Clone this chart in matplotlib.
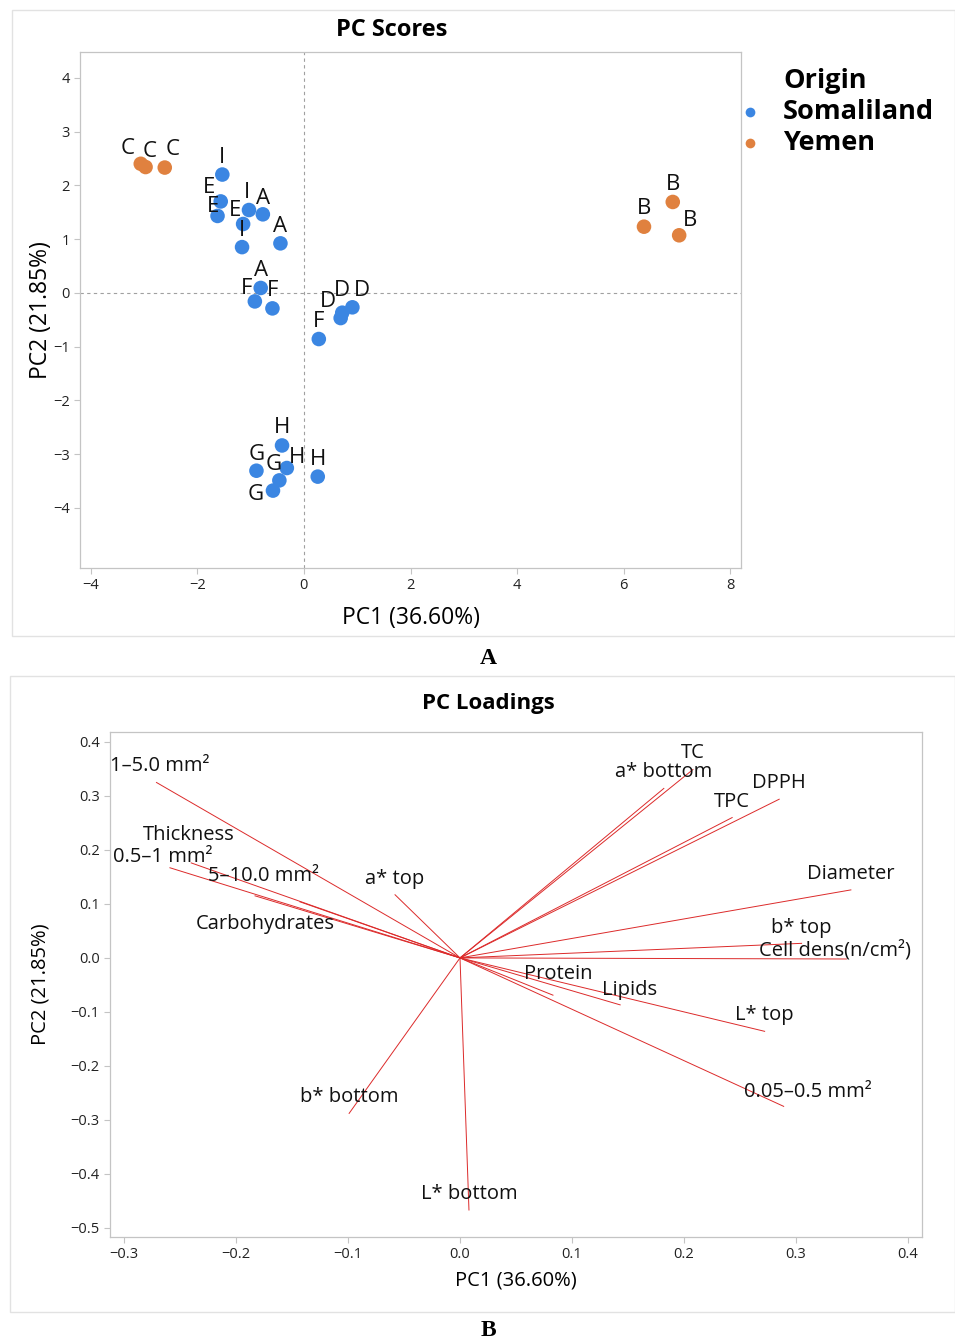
import matplotlib
matplotlib.use("Agg")
import matplotlib.pyplot as plt
from matplotlib.patches import Rectangle
from matplotlib.ticker import FuncFormatter

plt.rcParams['font.family'] = ['Open Sans', 'DejaVu Sans']

# --- PC scores (panel A) ---
score_labels = ['C', 'C', 'C', 'I', 'E', 'E', 'E', 'I', 'A', 'A', 'I', 'A', 'F', 'F', 'F',
                'D', 'D', 'D', 'H', 'G', 'H', 'G', 'G', 'H', 'B', 'B', 'B']
score_origin = ['Yemen'] * 3 + ['Somaliland'] * 21 + ['Yemen'] * 3
pc1_scores = [-3.06, -2.97, -2.61, -1.53, -1.56, -1.62, -1.14, -1.03, -0.77, -0.44, -1.16, -0.81,
              -0.92, -0.59, 0.28, 0.69, 0.72, 0.91, -0.41, -0.89, -0.32, -0.46, -0.58, 0.26,
              6.92, 6.38, 7.04]
pc2_scores = [2.40, 2.34, 2.33, 2.20, 1.70, 1.43, 1.28, 1.54, 1.46, 0.92, 0.85, 0.09,
              -0.16, -0.29, -0.86, -0.47, -0.37, -0.27, -2.84, -3.31, -3.26, -3.49, -3.68, -3.42,
              1.69, 1.23, 1.07]
# label offsets in pixels (dx right, dy up)
score_label_offsets = [(-13, 15), (4, 16), (8, 18), (0, 17), (-12, 14), (-5, 9), (-8, 14), (-2, 18),
                       (0, 16), (0, 17), (0, 17), (0, 17), (-8, 13), (0, 18), (0, 18), (-13, 17),
                       (0, 22), (10, 17), (0, 18), (0, 16), (10, 11), (-6, 16), (-17, -4), (0, 17),
                       (0, 17), (0, 18), (11, 15)]
origin_colors = {'Somaliland': '#3b86e2', 'Yemen': '#e0813f'}

# --- PC loadings (panel B) ---
var_names = ['1–5.0 mm²', 'Thickness', '0.5–1 mm²', '5–10.0 mm²', 'Carbohydrates', 'a* top',
             'TC', 'a* bottom', 'TPC', 'DPPH', 'Diameter', 'b* top', 'Cell dens(n/cm²)',
             'Protein', 'Lipids', 'L* top', '0.05–0.5 mm²', 'b* bottom', 'L* bottom']
pc1_load = [-0.271, -0.240, -0.259, -0.183, -0.143, -0.058,
            0.208, 0.182, 0.243, 0.285, 0.349, 0.305, 0.345,
            0.083, 0.143, 0.272, 0.289, -0.099, 0.008]
pc2_load = [0.325, 0.176, 0.167, 0.115, 0.104, 0.117,
            0.349, 0.314, 0.260, 0.294, 0.126, 0.027, -0.002,
            -0.069, -0.087, -0.136, -0.275, -0.288, -0.467]
load_label_offsets = [(3, 16), (-2, 28), (-7, 11), (8, 20), (-35, -22), (0, 16),
                      (0, 17), (0, 16), (0, 16), (0, 16), (0, 16), (0, 15), (-11, 9),
                      (5, 21), (9, 15), (0, 16), (24, 14), (0, 16), (0, 16)]

W, H = 955, 1342
fig = plt.figure(figsize=(W / 100, H / 100), dpi=100)

def fx(px):
    return px / W

def fy(py):
    return 1 - py / H

# panel frames
for (x0, y0, x1, y1) in [(12, 10, 955, 636), (10, 676, 955, 1312)]:
    fig.add_artist(Rectangle((fx(x0), fy(y1)), fx(x1) - fx(x0), fy(y0) - fy(y1),
                             transform=fig.transFigure, fill=False, edgecolor='#e2e2e2', lw=1))

spine_col = '#c4c4c4'

def style_axes(ax):
    for s in ax.spines.values():
        s.set_color(spine_col)
        s.set_linewidth(0.9)
    ax.tick_params(direction='out', length=4, width=0.8, color=spine_col,
                   labelsize=10.5, labelcolor='#222222')

def one_dec(v, pos):
    return ('%.1f' % v).replace('-', '\u2212')

# ---------- panel A ----------
ax1 = fig.add_axes([fx(80), fy(568), fx(741) - fx(80), fy(52) - fy(568)])
style_axes(ax1)
ax1.axvline(0, color='#a0a0a0', lw=0.8, ls=(0, (3, 3)), zorder=0)
ax1.axhline(0, color='#a0a0a0', lw=0.8, ls=(0, (3, 3)), zorder=0)
cols = [origin_colors[o] for o in score_origin]
ax1.scatter(pc1_scores, pc2_scores, c=cols, s=110, edgecolors='none', zorder=3)
for x, y, lab, (dx, dy) in zip(pc1_scores, pc2_scores, score_labels, score_label_offsets):
    ax1.annotate(lab, (x, y), xytext=(dx * 0.72, dy * 0.72), textcoords='offset points',
                 ha='center', va='center', fontsize=16, color='#111111', zorder=4)
ax1.set_xlim(-4.2, 8.2)
ax1.set_ylim(-5.12, 4.48)
ax1.set_xticks([-4, -2, 0, 2, 4, 6, 8])
ax1.set_yticks([-4, -3, -2, -1, 0, 1, 2, 3, 4])
ax1.set_xlabel('PC1 (36.60%)', fontsize=16.5, labelpad=9)
ax1.set_ylabel('PC2 (21.85%)', fontsize=16.5, labelpad=0)
fig.text(fx(392), fy(30), 'PC Scores', ha='center', va='center', fontsize=17, fontweight='bold')

# legend drawn by hand
fig.text(fx(783), fy(81), 'Origin', ha='left', va='center', fontsize=19.5, fontweight='bold')
for name, py in [('Somaliland', 112), ('Yemen', 143)]:
    fig.text(fx(783), fy(py), name, ha='left', va='center', fontsize=19.5, fontweight='bold')
    fig.add_artist(plt.Line2D([fx(750)], [fy(py)], marker='o', markersize=7, ls='none',
                              markerfacecolor=origin_colors[name], markeredgecolor='none',
                              transform=fig.transFigure))

fig.text(fx(488), fy(658), 'A', ha='center', va='center', fontsize=17, fontweight='bold',
         family='Liberation Serif')

# ---------- panel B ----------
ax2 = fig.add_axes([fx(110), fy(1237), fx(922) - fx(110), fy(732) - fy(1237)])
style_axes(ax2)
for x, y, lab, (dx, dy) in zip(pc1_load, pc2_load, var_names, load_label_offsets):
    ax2.plot([0, x], [0, y], color='#dc2a2a', lw=0.7)
    ax2.annotate(lab, (x, y), xytext=(dx * 0.72, dy * 0.72), textcoords='offset points',
                 ha='center', va='center', fontsize=14.5, color='#111111')
ax2.set_xlim(-0.3125, 0.4125)
ax2.set_ylim(-0.517, 0.4185)
ax2.set_xticks([-0.3, -0.2, -0.1, 0.0, 0.1, 0.2, 0.3, 0.4])
ax2.set_yticks([-0.5, -0.4, -0.3, -0.2, -0.1, 0.0, 0.1, 0.2, 0.3, 0.4])
ax2.xaxis.set_major_formatter(FuncFormatter(one_dec))
ax2.yaxis.set_major_formatter(FuncFormatter(one_dec))
ax2.set_xlabel('PC1 (36.60%)', fontsize=14.5, labelpad=6)
ax2.set_ylabel('PC2 (21.85%)', fontsize=14.5, labelpad=14)
fig.text(fx(488), fy(703), 'PC Loadings', ha='center', va='center', fontsize=16, fontweight='bold')
fig.text(fx(488), fy(1331), 'B', ha='center', va='center', fontsize=17, fontweight='bold',
         family='Liberation Serif')

fig.savefig('out.png', dpi=100)
